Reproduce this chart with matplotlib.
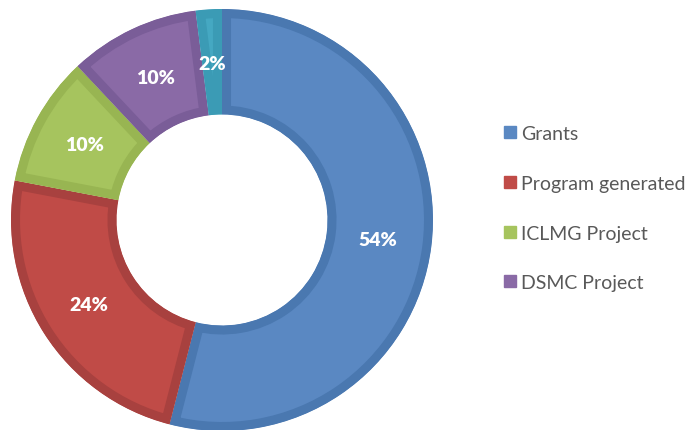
import numpy as np
import matplotlib.pyplot as plt
from matplotlib.lines import Line2D

plt.rcParams['font.family'] = ['Lato', 'DejaVu Sans']

labels = ['Grants', 'Program generated', 'ICLMG Project', 'DSMC Project', 'Other']
shares = [54, 24, 10, 10, 2]
faces = ['#5A88C2', '#C04B47', '#A6C45E', '#8A6AA6', '#45A8C2']
edges = ['#4A78B0', '#A8413F', '#98B552', '#7A5D98', '#3B9BB5']
legend_labels = labels[:4]

fig = plt.figure(figsize=(6.91, 4.31), dpi=100)
ax = fig.add_axes([11 / 691, -1 / 431, 422 / 691, 422 / 431])

wedges, texts = ax.pie(shares, radius=1, startangle=90, counterclock=False,
                       colors=faces, wedgeprops=dict(width=0.5))
for w, ec in zip(wedges, edges):
    w.set_edgecolor(ec)
    w.set_linewidth(13)
    # keep only the inner half of the stroke
    w.set_clip_on(True)
    w.set_clip_path(w.get_path(), w.get_transform())

# percentage labels in the middle of the ring
start = 90
for v in shares:
    mid = np.deg2rad(start - v * 3.6 / 2)
    ax.text(0.745 * np.cos(mid), 0.745 * np.sin(mid), f'{v}%', color='white',
            fontsize=14, fontweight='heavy', ha='center', va='center')
    start -= v * 3.6

ax.set_xlim(-1, 1)
ax.set_ylim(-1, 1)
ax.set_aspect('equal')
ax.axis('off')

handles = [Line2D([], [], marker='s', linestyle='none', markersize=8.5,
                  markerfacecolor=c, markeredgecolor=c) for c in faces[:4]]
fig.legend(handles, legend_labels, loc='upper left', bbox_to_anchor=(0.718, 0.725),
           frameon=False, fontsize=14, labelcolor='#595959', labelspacing=1.68,
           handlelength=0.6, handletextpad=0.3, borderaxespad=0)

fig.savefig('out.png', dpi=100)
